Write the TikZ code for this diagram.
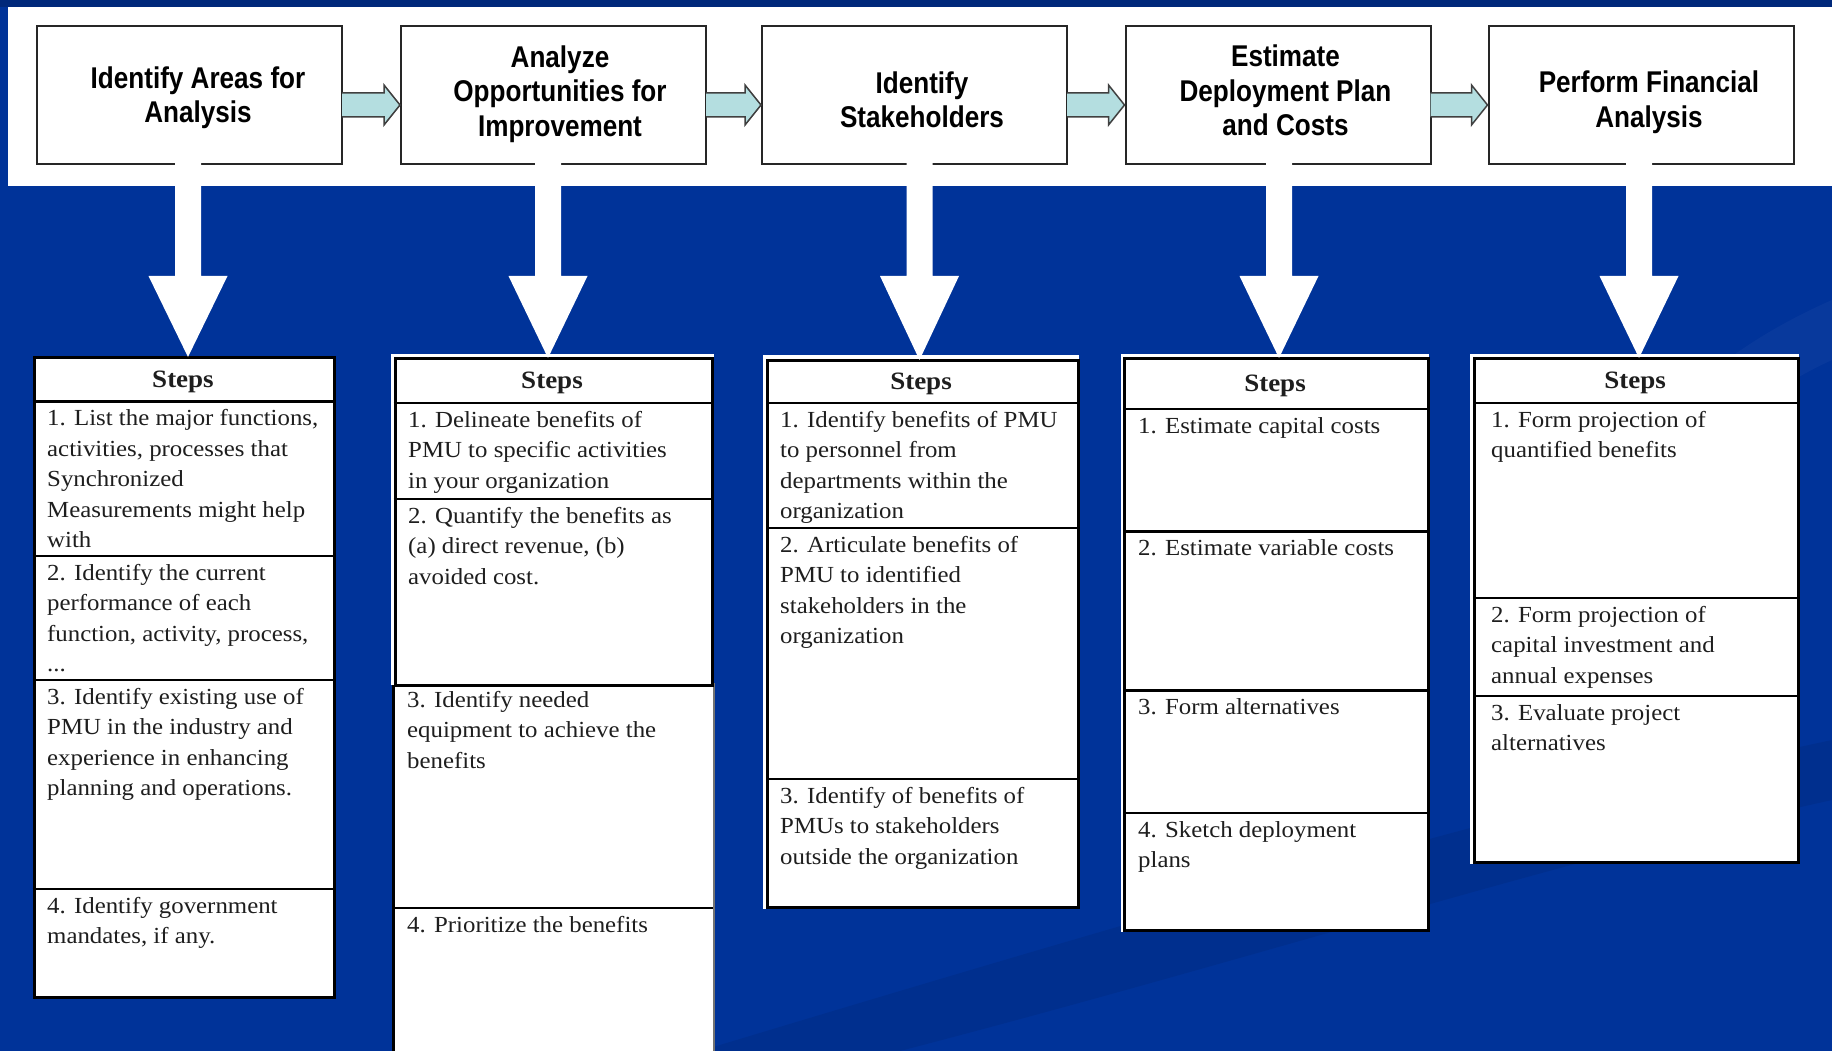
\documentclass[tikz,border=0pt]{standalone}
\usepackage{fontspec}
\newfontfamily\boxfont{Liberation Sans}[FakeStretch=0.87]
\newfontfamily\cellfont{Liberation Serif}[FakeStretch=1.08]
\usetikzlibrary{calc}
\definecolor{bgblue}{HTML}{003399}
\definecolor{topnavy}{HTML}{00287A}
\definecolor{flowcyan}{HTML}{B4DEE0}
\definecolor{celltext}{HTML}{1E1E1E}
\newcommand\cellat[4]{\node[cell] (#1) at (#2,#3) {\rule{0pt}{18pt}#4};}
\begin{document}
\begin{tikzpicture}[x=1pt,y=-1pt,
  topbox/.style={draw=black!85, line width=2pt, fill=white, minimum width=305pt, minimum height=138pt, inner sep=0pt},
  boxtext/.style={align=center, inner sep=0pt, font=\boxfont\bfseries\fontsize{30}{34.5}\selectfont},
  tbl/.style={draw=black, line width=3pt, fill=white, anchor=north west, inner sep=0pt},
  tblframe/.style={fill=white, draw=none},
  cell/.style={anchor=north west, align=left, inner sep=0pt, text=celltext, font=\cellfont\fontsize{23}{30.5}\selectfont},
  headtext/.style={anchor=base, inner sep=0pt, text=celltext, font=\cellfont\bfseries\fontsize{25}{30}\selectfont},
  rowline/.style={line width=2.5pt, draw=black},
  flowarrow/.style={fill=flowcyan, draw=black!75, line width=1.5pt, line join=miter},
  downarrow/.style={fill=white, draw=none}
]
\useasboundingbox (0,0) rectangle (1832,1051);
\clip (0,0) rectangle (1832,1051);
% background
\fill[bgblue] (0,0) rectangle (1832,1051);
\fill[black, opacity=0.07] (700,1051) .. controls (1200,900) and (1550,800) .. (1832,740) -- (1832,800) .. controls (1560,860) and (1250,960) .. (900,1051) -- cycle;
\fill[white, opacity=0.03] (1832,300) .. controls (1650,380) and (1560,520) .. (1540,700) -- (1600,700) .. controls (1620,540) and (1700,420) .. (1832,360) -- cycle;
\fill[topnavy] (0,0) rectangle (1832,7);
% white band
\fill[white] (8,7) rectangle (1832,186);

% top boxes
\node[topbox] (b1) at (189.5,95) {};
\node[topbox] (b2) at (553.5,95) {};
\node[topbox] (b3) at (914.5,95) {};
\node[topbox] (b4) at (1278,95) {};
\node[topbox] (b5) at (1641,95) {};
\node[boxtext] (b1t) at ($(b1.center)+(8.5,2.5)$) {Identify Areas for\\Analysis};
\node[boxtext] (b2t) at ($(b2.center)+(6.5,-1)$) {Analyze\\Opportunities for\\Improvement};
\node[boxtext] (b3t) at ($(b3.center)+(7.5,5)$) {Identify\\Stakeholders};
\node[boxtext] (b4t) at ($(b4.center)+(7.5,-4.5)$) {Estimate\\Deployment Plan\\and Costs};
\node[boxtext] (b5t) at ($(b5.center)+(8,7)$) {Perform Financial\\Analysis};

% flow arrows
\foreach \a/\b in {b1/b2,b2/b3,b3/b4,b4/b5}{
  \draw[flowarrow] ($(\a.east)+(-1,-2)$) -- ($(\b.west)+(-16,-2)$) -- ($(\b.west)+(-16,-10)$) -- ($(\b.west)+(0,10)$) -- ($(\b.west)+(-16,30)$) -- ($(\b.west)+(-16,22)$) -- ($(\a.east)+(-1,22)$);
}

% tables
% T1
\node[tbl, minimum width=300.3pt, minimum height=639.5pt] (t1) at (32.7,356) {};
\draw[rowline] (32.7,401.5) -- ++(300.3,0);
\draw[rowline] (32.7,556) -- ++(300.3,0);
\draw[rowline] (32.7,680) -- ++(300.3,0);
\draw[rowline] (32.7,889) -- ++(300.3,0);
\node[headtext] (t1h) at (183,387.7) {Steps};
\cellat{t1a}{47}{407.5}{1. List the major functions,\\activities, processes that\\Synchronized\\Measurements might help\\with}
\cellat{t1b}{47}{562}{2. Identify the current\\performance of each\\function, activity, process,\\...}
\cellat{t1c}{47}{686}{3. Identify existing use of\\PMU in the industry and\\experience in enhancing\\planning and operations.}
\cellat{t1d}{47}{895}{4. Identify government\\mandates, if any.}

% T2 lower part
\node[anchor=north west, draw=black!55, line width=1.5pt, fill=white, minimum width=321pt, minimum height=420pt, inner sep=0pt] (t2b) at (392,683) {};
\draw[line width=3pt, black] (393.5,683) -- (393.5,1060);
\draw[rowline] (392,908) -- ++(321,0);
% T2 upper part
\fill[tblframe] (391,353.5) rectangle (714,685);
\node[tbl, minimum width=317.5pt, minimum height=327pt] (t2) at (393.5,357) {};
\draw[rowline] (393.5,403) -- ++(317.5,0);
\draw[rowline] (393.5,499) -- ++(317.5,0);
\node[headtext] (t2h) at (552,388.5) {Steps};
\cellat{t2a}{408}{409}{1. Delineate benefits of\\PMU to specific activities\\in your organization}
\cellat{t2c}{408}{505}{2. Quantify the benefits as\\(a) direct revenue, (b)\\avoided cost.}
\cellat{t2d}{407}{689}{3. Identify needed\\equipment to achieve the\\benefits}
\cellat{t2e}{407}{914}{4. Prioritize the benefits}

% T3
\fill[tblframe] (762.5,354.5) rectangle (1078.5,908.5);
\node[tbl, minimum width=311pt, minimum height=547pt] (t3) at (766,359) {};
\draw[rowline] (766,403) -- ++(311,0);
\draw[rowline] (766,528) -- ++(311,0);
\draw[rowline] (766,779) -- ++(311,0);
\node[headtext] (t3h) at (921,389) {Steps};
\cellat{t3a}{780}{409}{1. Identify benefits of PMU\\to personnel from\\departments within the\\organization}
\cellat{t3b}{780}{534}{2. Articulate benefits of\\PMU to identified\\stakeholders in the\\organization}
\cellat{t3c}{780}{785}{3. Identify of benefits of\\PMUs to stakeholders\\outside the organization}

% T4
\fill[tblframe] (1121,354) rectangle (1429,931.5);
\node[tbl, minimum width=304pt, minimum height=572pt] (t4) at (1123,357) {};
\draw[rowline] (1123,409) -- ++(304,0);
\draw[rowline] (1123,531.6) -- ++(304,0);
\draw[rowline] (1123,690.5) -- ++(304,0);
\draw[rowline] (1123,813) -- ++(304,0);
\node[headtext] (t4h) at (1275,391.5) {Steps};
\cellat{t4a}{1138}{415}{1. Estimate capital costs}
\cellat{t4b}{1138}{537.6}{2. Estimate variable costs}
\cellat{t4c}{1138}{696.5}{3. Form alternatives}
\cellat{t4d}{1138}{819}{4. Sketch deployment\\plans}

% T5
\fill[tblframe] (1470,354) rectangle (1799,863.5);
\node[tbl, minimum width=324pt, minimum height=504pt] (t5) at (1473,357) {};
\draw[rowline] (1473,403) -- ++(324,0);
\draw[rowline] (1473,598) -- ++(324,0);
\draw[rowline] (1473,696) -- ++(324,0);
\node[headtext] (t5h) at (1635,388.5) {Steps};
\cellat{t5a}{1491}{409}{1. Form projection of\\quantified benefits}
\cellat{t5b}{1491}{604}{2. Form projection of\\capital investment and\\annual expenses}
\cellat{t5c}{1491}{702}{3. Evaluate project\\alternatives}

% down arrows
\foreach \a/\t/\dx in {b1/t1/-1.5,b2/t2/-5.5,b3/t3/5,b4/t4/1,b5/t5/-2}{
  \fill[white] ($(\a.south)+(\dx-13,-3)$) -- ($(\a.south)+(\dx-13,111)$) -- ($(\a.south)+(\dx-39.5,111)$) -- ($(\a.south |- \t.north)+(\dx,1)$) -- ($(\a.south)+(\dx+39.5,111)$) -- ($(\a.south)+(\dx+13,111)$) -- ($(\a.south)+(\dx+13,-3)$) -- cycle;
}
\end{tikzpicture}
\end{document}
